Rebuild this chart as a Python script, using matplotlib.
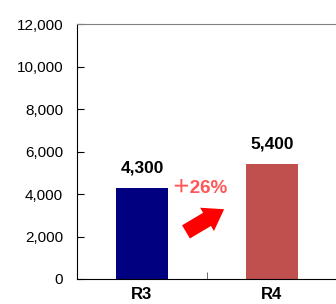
import matplotlib
matplotlib.use("Agg")
import matplotlib.pyplot as plt
from matplotlib.ticker import FuncFormatter

categories = ["R3", "R4"]
values = [4300, 5400]
bar_colors = ["#000080", "#C0504D"]
change_label = "＋26%"

plt.rcParams['font.family'] = ['Liberation Sans', 'Noto Sans CJK JP', 'DejaVu Sans']

fig = plt.figure(figsize=(3.36, 3.04), dpi=100)
ax = fig.add_axes([77/336, 25/304, 260/336, 255/304])

x = list(range(len(categories)))
ax.bar(x, values, width=0.4, color=bar_colors)
ax.set_xlim(-0.5, 1.5)
ax.set_ylim(0, 12000)
ax.set_yticks(range(0, 12001, 2000))
ax.yaxis.set_major_formatter(FuncFormatter(lambda v, p: f"{int(v):,}"))
ax.tick_params(axis='y', direction='in', length=5, labelsize=11, pad=10)
ax.set_xticks(x)
ax.set_xticklabels(categories, fontsize=12, fontweight='bold')
ax.tick_params(axis='x', length=0, pad=6)
ax.set_xticks([0.5], minor=True)
ax.tick_params(axis='x', which='minor', direction='in', length=5, color='#555555')

ax.spines['right'].set_visible(False)
ax.spines['top'].set_color('#808080')

for xi, v in zip(x, values):
    ax.text(xi, v + 580, f"{v:,}", ha='center', va='bottom',
            fontsize=12.5, fontweight='bold')

ax.text(0.44, 4250, change_label, ha='center', va='center',
        fontsize=13.5, fontweight='bold', color='#FF5757')
ax.annotate("", xy=(0.65, 3350), xytext=(0.32, 2150),
            arrowprops=dict(arrowstyle="simple,head_width=1.5,head_length=1.1,tail_width=0.85",
                            color='#FF0000', lw=0, mutation_scale=13))

fig.savefig("out.png", dpi=100)
